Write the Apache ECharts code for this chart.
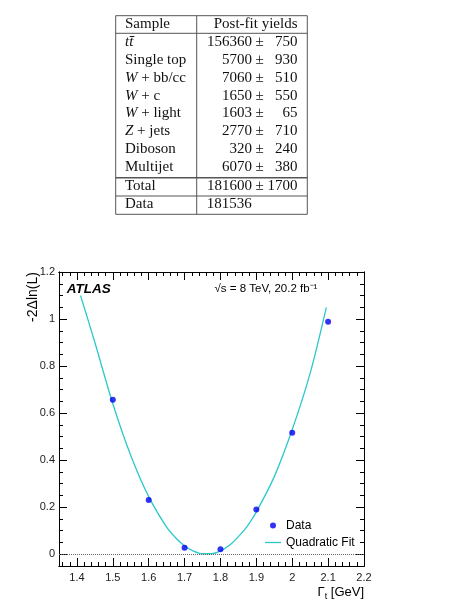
<!DOCTYPE html>
<html>
<head>
<meta charset="utf-8">
<script src="https://cdn.jsdelivr.net/npm/echarts@6/dist/echarts.min.js"></script>
<style>
  html, body { margin: 0; padding: 0; background: #fff; }
  #chart { width: 450px; height: 606px; }
</style>
</head>
<body>
<div id="chart"></div>
<script>
// table of post-fit yields
var samples = ["{i|tt\u0304}", "Single top", "{i|W} + bb/cc", "{i|W} + c", "{i|W} + light", "{i|Z} + jets", "Diboson", "Multijet"];
var yields = [156360, 5700, 7060, 1650, 1603, 2770, 320, 6070];
var yieldErrors = [750, 930, 510, 550, 65, 710, 240, 380];
var totalYield = 181600;
var totalError = 1700;
var dataYield = 181536;

// likelihood scan points
var gammaPoints = [1.5, 1.6, 1.7, 1.8, 1.9, 2.0, 2.1];
var nllPoints = [0.657, 0.231, 0.028, 0.021, 0.19, 0.517, 0.988];

// quadratic fit curve
var fitX = [1.41, 1.45, 1.5, 1.55, 1.6, 1.65, 1.675, 1.7, 1.725, 1.75, 1.775, 1.8, 1.825, 1.85, 1.875, 1.9, 1.95, 2.0, 2.05, 2.095];
var fitY = [1.10, 0.90, 0.64, 0.42, 0.245, 0.115, 0.07, 0.035, 0.013, 0.002, 0.002, 0.014, 0.038, 0.075, 0.12, 0.18, 0.33, 0.53, 0.77, 1.05];

var xTicks = [1.4, 1.5, 1.6, 1.7, 1.8, 1.9, 2.0, 2.1, 2.2];
var yTicks = [0, 0.2, 0.4, 0.6, 0.8, 1.0, 1.2];

var xMinor = [];
for (var i = 68; i <= 110; i++) xMinor.push(i / 50);
var yMinor = [];
for (var j = -1; j <= 24; j++) yMinor.push(j / 20);

var fmt = function (v) { return String(+(+v).toFixed(2)); };

var serif = "15px 'Liberation Serif'";
var tableLeft = 115.7, tableMid = 196.7, tableRight = 307.3;
var rowY0 = 42.3, rowH = 17.8;

var graphics = [];
function hline(y, w) {
  graphics.push({ type: 'line', shape: { x1: tableLeft, y1: y, x2: tableRight, y2: y }, style: { stroke: '#555', lineWidth: w || 1 } });
}
function vline(x) {
  graphics.push({ type: 'line', shape: { x1: x, y1: 15.7, x2: x, y2: 214.3 }, style: { stroke: '#555', lineWidth: 1 } });
}
function txt(s, x, y, align) {
  graphics.push({
    type: 'text', x: x, y: y,
    style: { text: s, font: serif, fill: '#111', textAlign: align, textVerticalAlign: 'middle',
      rich: { i: { fontFamily: 'Liberation Serif', fontSize: 15, fontStyle: 'italic', fill: '#111' } } }
  });
}
hline(15.7); hline(33.3); hline(177.7, 1.4); hline(196); hline(214.3);
vline(tableLeft); vline(tableMid); vline(tableRight);
txt('Sample', 125, 24, 'left');
txt('Post-fit yields', 297.5, 24, 'right');
samples.forEach(function (s, k) {
  var y = rowY0 + k * rowH;
  txt(s, 125, y, 'left');
  txt(String(yields[k]), 252, y, 'right');
  txt('\u00b1', 255.5, y, 'left');
  txt(String(yieldErrors[k]), 297.5, y, 'right');
});
txt('Total', 125, 185.7, 'left');
txt(String(totalYield), 252, 185.7, 'right');
txt('\u00b1', 255.5, 185.7, 'left');
txt(String(totalError), 297.5, 185.7, 'right');
txt('Data', 125, 204, 'left');
txt(String(dataYield), 206.7, 204, 'left');

// plot annotations
graphics.push({ type: 'text', x: 66.7, y: 289, style: { text: 'ATLAS', font: "italic bold 13.5px 'Liberation Sans'", fill: '#000', textVerticalAlign: 'middle' } });
graphics.push({ type: 'text', x: 266, y: 289, style: { text: '\u221as = 8 TeV, 20.2 fb\u207b\u00b9', font: "11.5px 'Liberation Sans'", fill: '#000', textAlign: 'center', textVerticalAlign: 'middle' } });
graphics.push({ type: 'text', x: 33, y: 297, rotation: Math.PI / 2, style: { text: '-2\u0394ln(L)', font: "14px 'Liberation Sans'", fill: '#000', textAlign: 'center', textVerticalAlign: 'middle' } });
graphics.push({
  type: 'text', x: 364, y: 592,
  style: {
    text: '{a|\u0393}{s|t}{a| [GeV]}', textAlign: 'right', textVerticalAlign: 'middle',
    rich: {
      a: { fontFamily: 'Liberation Sans', fontSize: 13, fill: '#000', lineHeight: 18, verticalAlign: 'middle' },
      s: { fontFamily: 'Liberation Sans', fontSize: 9, fill: '#000', lineHeight: 18, verticalAlign: 'bottom' }
    }
  }
});

var axisBlack = { show: true, onZero: false, lineStyle: { color: '#000', width: 1 } };
function xAxisDef(pos, ticks, len, labels) {
  return {
    type: 'value', min: 1.35, max: 2.2, position: pos,
    axisLine: axisBlack, splitLine: { show: false },
    axisTick: { show: true, inside: true, length: len, customValues: ticks, lineStyle: { color: '#000' } },
    axisLabel: labels ? { show: true, customValues: xTicks, formatter: fmt, margin: 6, fontSize: 11, fontFamily: 'Liberation Sans', color: '#222' } : { show: false }
  };
}
function yAxisDef(pos, ticks, len, labels) {
  return {
    type: 'value', min: -0.05, max: 1.2, position: pos,
    axisLine: axisBlack, splitLine: { show: false },
    axisTick: { show: true, inside: true, length: len, customValues: ticks, lineStyle: { color: '#000' } },
    axisLabel: labels ? { show: true, customValues: yTicks, formatter: fmt, margin: 4, fontSize: 11, fontFamily: 'Liberation Sans', color: '#222' } : { show: false }
  };
}

var chart = echarts.init(document.getElementById('chart'));
var option = {
  animation: false,
  grid: { left: 59, top: 272, right: 86, bottom: 40, containLabel: false },
  xAxis: [
    xAxisDef('bottom', xTicks, 8, true),
    xAxisDef('bottom', xMinor, 4, false),
    xAxisDef('top', xTicks, 8, false),
    xAxisDef('top', xMinor, 4, false)
  ],
  yAxis: [
    yAxisDef('left', yTicks, 8, true),
    yAxisDef('left', yMinor, 4, false),
    yAxisDef('right', yTicks, 8, false),
    yAxisDef('right', yMinor, 4, false)
  ],
  legend: {
    orient: 'vertical', left: 260, top: 514.5, itemWidth: 16, itemHeight: 6, itemGap: 5,
    textStyle: { fontSize: 12, fontFamily: 'Liberation Sans', color: '#000' },
    data: [
      { name: 'Data', icon: 'circle' },
      { name: 'Quadratic Fit', icon: 'path://M0,0 L16,0 L16,1.3 L0,1.3 Z' }
    ]
  },
  graphic: graphics,
  series: [
    {
      name: 'Quadratic Fit', type: 'line', symbol: 'none', smooth: 0.3,
      lineStyle: { color: '#2cc8cc', width: 1.3 }, itemStyle: { color: '#2cc8cc' },
      data: fitX.map(function (x, k) { return [x, fitY[k]]; }),
      z: 2
    },
    {
      name: 'Data', type: 'scatter', symbol: 'circle', symbolSize: 6,
      itemStyle: { color: '#0000f0' },
      data: gammaPoints.map(function (x, k) { return [x, nllPoints[k]]; }),
      markLine: {
        silent: true, symbol: 'none', label: { show: false },
        lineStyle: { type: 'dotted', color: '#666', width: 1 },
        data: [{ yAxis: 0 }]
      },
      z: 3
    }
  ]
};
chart.setOption(option);
</script>
</body>
</html>
